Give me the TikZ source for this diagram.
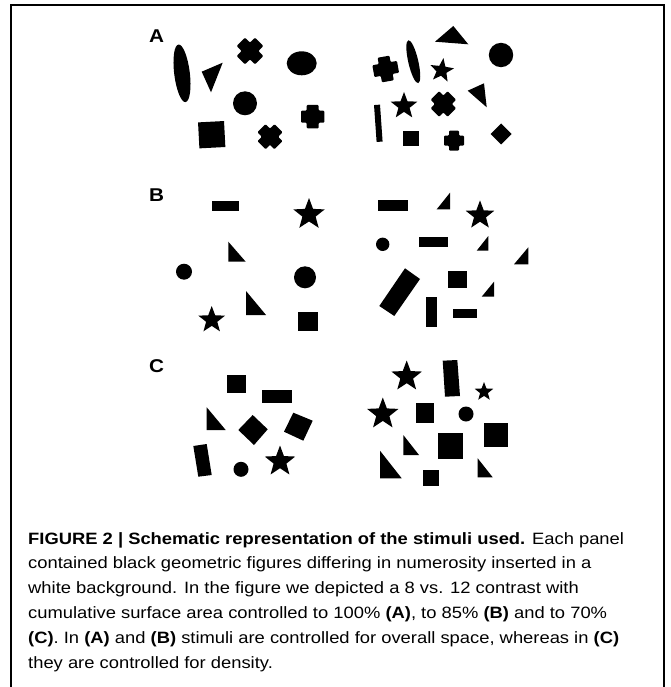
\documentclass[tikz,border=0pt]{standalone}
\usepackage{fontspec}
\setmainfont{Liberation Sans}[FakeStretch=1.12]
\newcommand\fstar[4]{\fill[shift={(#1,#2)},rotate=#4] (-90:#3) -- (-54:0.42*#3) -- (-18:#3) -- (18:0.42*#3) -- (54:#3) -- (90:0.42*#3) -- (126:#3) -- (162:0.42*#3) -- (198:#3) -- (234:0.42*#3) -- cycle;}
\newcommand\fcross[5]{\fill[shift={(#1,#2)},rotate=#5,rounded corners=1pt] (-#4,-#3) -- (#4,-#3) -- (#4,-#4) -- (#3,-#4) -- (#3,#4) -- (#4,#4) -- (#4,#3) -- (-#4,#3) -- (-#4,#4) -- (-#3,#4) -- (-#3,-#4) -- (-#4,-#4) -- cycle;}
\begin{document}
\begin{tikzpicture}[x=1pt,y=-1pt,
  lbl/.style={anchor=base west,inner sep=0pt,font=\fontsize{18.5}{21}\selectfont\bfseries},
  capline/.style={anchor=base west,inner sep=0pt,font=\fontsize{16.4}{24.8}\selectfont}]
\useasboundingbox (0,0) rectangle (670,687);
\fill[white] (0,0) rectangle (670,687);
\draw[line width=1.1pt] (11,690) -- (11,5) -- (664,5) -- (664,690);
% labels
\node[lbl] (la) at (149,42.5) {A};
\node[lbl] (lb) at (149,201.7) {B};
\node[lbl] (lc) at (149,372) {C};
% ---- Panel A left
\fill[shift={(182,73.3)},rotate=7] (0,0) ellipse [x radius=7.8, y radius=29];
\fill (201.7,71.7) -- (222.7,62.7) -- (211,92.3) -- cycle;
\fcross{250}{51}{13}{6}{45}
\fill (301.7,63.3) ellipse [x radius=15, y radius=12];
\fill (245,103.3) circle [radius=12];
\fill[shift={(211.7,134.7)},rotate=3] (-13,-13) rectangle (13,13);
\fcross{270}{136.7}{12}{5.7}{45}
\fcross{312.7}{116.7}{11.7}{6}{0}
% ---- Panel A right
\fill (435,41.7) -- (453.3,26) -- (468.3,44.3) -- cycle;
\fill (501,55) circle [radius=12.2];
\fcross{385.7}{69}{12.5}{6}{10}
\fill[shift={(413.3,61.7)},rotate=13] (0,0) ellipse [x radius=5, y radius=22];
\fstar{441.7}{70.5}{12.5}{-8}
\fill (467.7,90.7) -- (484,83.3) -- (486.7,107.3) -- cycle;
\fill[shift={(378.3,123.3)},rotate=4] (-3,-18.5) rectangle (3,18.5);
\fstar{404}{106}{14}{0}
\fcross{443.3}{104}{12}{6}{45}
\fill (403.2,130.7) rectangle (418.8,146.3);
\fcross{454}{140.7}{10}{5}{0}
\fill (501,123.5) -- (511.5,134) -- (501,144.5) -- (490.5,134) -- cycle;
% ---- Panel B left
\fill (211.7,200.7) rectangle (239,211);
\fstar{309}{214.5}{16.5}{0}
\fill (228.3,241.7) -- (228.3,261.7) -- (245.7,261.7) -- cycle;
\fill (184,271.7) circle [radius=8];
\fill (305,277.3) circle [radius=11];
\fill (246,291) -- (246,315) -- (266,315) -- cycle;
\fstar{211.7}{320}{14}{0}
\fill (297.7,311.7) rectangle (317.7,331);
% ---- Panel B right
\fill (378.3,200) rectangle (408.3,210.7);
\fill (436.7,209.3) -- (450,209.3) -- (450,192.7) -- cycle;
\fstar{480}{215.4}{15}{0}
\fill (382.7,244.3) circle [radius=6.7];
\fill (419,237.3) rectangle (448.3,247.3);
\fill (476.7,250.7) -- (488.3,250.7) -- (488.3,236) -- cycle;
\fill (514,264.3) -- (528.3,264.3) -- (528.3,247.3) -- cycle;
\fill (379.3,306) -- (394.3,316) -- (420,279) -- (405,268.3) -- cycle;
\fill (448.3,270.7) rectangle (466.7,288);
\fill (481.7,296.7) -- (494,296.7) -- (494,281.7) -- cycle;
\fill (426,297.3) rectangle (436.7,327.3);
\fill (453.3,309.3) rectangle (476.7,317.7);
% ---- Panel C left
\fill (227.3,375) rectangle (245.7,393.3);
\fill (261.7,390) rectangle (292.3,403.3);
\fill (206.7,407.3) -- (206.7,430) -- (225.7,430) -- cycle;
\fill (252.7,415) -- (267.7,429.3) -- (254,445) -- (238.3,430) -- cycle;
\fill (293.3,412.7) -- (312.7,420.7) -- (303.3,440.7) -- (284,431.7) -- cycle;
\fill (193.3,446) -- (206.7,444) -- (211.7,475) -- (198.3,476.7) -- cycle;
\fill (241,469.3) circle [radius=7.5];
\fstar{280}{461.5}{16}{0}
% ---- Panel C right
\fstar{406.7}{376.5}{16}{0}
\fill (442.7,360.7) -- (457.3,360) -- (460,396) -- (445,396.7) -- cycle;
\fstar{484}{391.8}{9.8}{0}
\fstar{382.8}{414}{16.5}{0}
\fill (416,403.3) rectangle (434,422.7);
\fill (466,414) circle [radius=7.5];
\fill (484.3,423.3) rectangle (507.7,446.7);
\fill (403.3,435) -- (403.3,455) -- (419,455) -- cycle;
\fill (437.7,433.3) rectangle (463.3,459);
\fill (380,450.7) -- (380,478.3) -- (401.7,478.3) -- cycle;
\fill (422.7,470) rectangle (438.7,486);
\fill (477.7,458.3) -- (477.7,477.3) -- (492.7,477.3) -- cycle;
% ---- caption
\node[capline] (c1) at (28,544) {\textbf{FIGURE 2 | Schematic representation of the stimuli used.} Each panel};
\node[capline] (c2) at (28,568.8) {contained black geometric figures differing in numerosity inserted in a};
\node[capline] (c3) at (28,593.6) {white background. In the figure we depicted a 8 vs. 12 contrast with};
\node[capline] (c4) at (28,618.4) {cumulative surface area controlled to 100\% \textbf{(A)}, to 85\% \textbf{(B)} and to 70\%};
\node[capline] (c5) at (28,643.2) {\textbf{(C)}. In \textbf{(A)} and \textbf{(B)} stimuli are controlled for overall space, whereas in \textbf{(C)}};
\node[capline] (c6) at (28,668) {they are controlled for density.};
\end{tikzpicture}
\end{document}
